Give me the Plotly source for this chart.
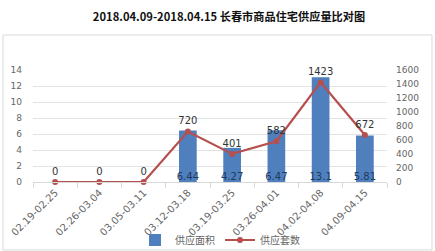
import plotly.graph_objects as go

categories = ["02.19-02.25", "02.26-03.04", "03.05-03.11", "03.12-03.18",
              "03.19-03.25", "03.26-04.01", "04.02-04.08", "04.09-04.15"]
area = [None, None, None, 6.44, 4.27, 6.47, 13.1, 5.81]
area_labels = ["", "", "", "6.44", "4.27", "6.47", "13.1", "5.81"]
units = [0, 0, 0, 720, 401, 582, 1423, 672]
left_ticks = [0, 2, 4, 6, 8, 10, 12, 14]
right_ticks = [0, 200, 400, 600, 800, 1000, 1200, 1400, 1600]

W, H = 435, 251
L, R, T, B = 33, 48, 70, 69

fig = go.Figure()
fig.add_trace(go.Bar(
    x=categories, y=area, name="供应面积",
    marker=dict(color="#4F7FBD", line=dict(width=0)),
    yaxis="y",
))
# bar value labels placed at the base of each bar
fig.add_trace(go.Scatter(
    x=categories, y=[0 if a is not None else None for a in area],
    mode="text", text=area_labels, textposition="top center",
    textfont=dict(color="#1F3A60", size=10, family="DejaVu Sans"),
    showlegend=False, hoverinfo="skip", yaxis="y", cliponaxis=False,
))
fig.add_trace(go.Scatter(
    x=categories, y=units, name="供应套数", mode="lines+markers+text",
    line=dict(color="#B5504E", width=2.2),
    marker=dict(color="#B5504E", size=6, symbol="circle"),
    text=[str(u) for u in units], textposition="top center",
    textfont=dict(color="#333333", size=10, family="DejaVu Sans"),
    yaxis="y2", cliponaxis=False,
))

pw = W - L - R
ph = H - T - B
def px2x(px):
    return (px - L) / pw
def py2y(py):
    return (H - B - py) / ph

fig.add_shape(type="rect", xref="paper", yref="paper",
              x0=px2x(3), x1=px2x(432), y0=py2y(250), y1=py2y(35),
              line=dict(color="#D9D9D9", width=1), fillcolor="rgba(0,0,0,0)", layer="below")

fig.update_layout(
    width=W, height=H,
    margin=dict(l=L, r=R, t=T, b=B, autoexpand=False),
    paper_bgcolor="white", plot_bgcolor="white",
    title=dict(text="<b>2018.04.09-2018.04.15 长春市商品住宅供应量比对图</b>",
               x=(229) / W, xanchor="center", y=1 - 17 / H, yanchor="middle",
               font=dict(size=11.2, color="#111111", family="Noto Sans CJK SC")),
    bargap=0.6,
    showlegend=True,
    legend=dict(orientation="h", x=0.5 + 10 / pw, xanchor="center", y=py2y(240), yanchor="middle",
                font=dict(size=10, color="#666666", family="Noto Sans CJK SC"),
                itemwidth=30, traceorder="normal", bgcolor="rgba(0,0,0,0)"),
    xaxis=dict(type="category", tickangle=-45, showgrid=False, automargin=False,
               tickfont=dict(size=10, color="#666666", family="DejaVu Sans"),
               showline=True, linecolor="#D9D9D9", linewidth=1,
               ticks="outside", tickson="boundaries", ticklen=5, tickcolor="#D9D9D9"),
    yaxis=dict(range=[0, 14], tickvals=left_ticks, showgrid=True, gridcolor="#E3E3E3",
               tickfont=dict(size=9, color="#666666", family="DejaVu Sans"),
               zeroline=False, ticks="", ticklabelstandoff=10, automargin=False),
    yaxis2=dict(range=[0, 1600], tickvals=right_ticks, overlaying="y", side="right",
                showgrid=False, zeroline=False, automargin=False,
                tickfont=dict(size=9, color="#666666", family="DejaVu Sans"),
                ticklabelstandoff=8),
    font=dict(family="Noto Sans CJK SC"),
)

fig.write_html("out.html")
